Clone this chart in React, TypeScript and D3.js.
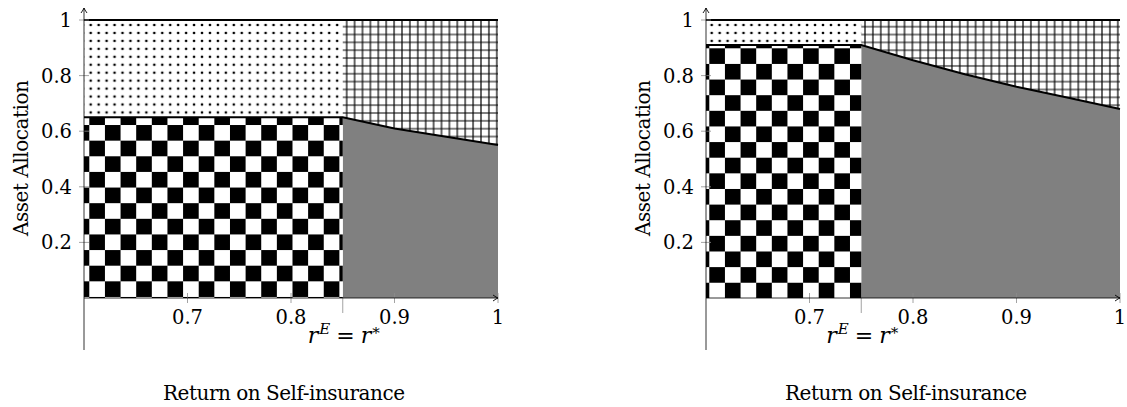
import React, { useEffect, useRef } from 'react';
import * as d3 from 'd3';

const xTicks = [0.7, 0.8, 0.9, 1];
const xTickLabels = ['0.7', '0.8', '0.9', '1'];
const yTicks = [0.2, 0.4, 0.6, 0.8, 1];
const yTickLabels = ['0.2', '0.4', '0.6', '0.8', '1'];

// left panel: threshold return and asset share boundary
const leftRStar = 0.85;
const leftReturns = [0.6, 0.85, 0.9, 0.95, 1];
const leftShares = [0.65, 0.65, 0.61, 0.58, 0.55];

// right panel
const rightRStar = 0.75;
const rightReturns = [0.6, 0.75, 0.8, 0.85, 0.9, 0.95, 1];
const rightShares = [0.91, 0.91, 0.855, 0.805, 0.76, 0.72, 0.68];

const xLabel = 'Return on Self-insurance';
const yLabel = 'Asset Allocation';

const FONT = "DejaVu Serif, Liberation Serif, serif";

const panels = [
    { id: 'l', left: 84, rStar: leftRStar, returns: leftReturns, shares: leftShares, checker: [89.3, 109.4], dots: [90.7, 25], grid: [346.7, 97.3] },
    { id: 'r', left: 706, rStar: rightRStar, returns: rightReturns, shares: rightShares, checker: [709.3, 48.3], dots: [711.7, 25], grid: [865, 26.7] },
];

const App = () => {
    const ref = useRef<SVGSVGElement>(null);

    useEffect(() => {
        const svg = d3.select(ref.current);
        svg.selectAll('*').remove();
        const defs = svg.append('defs');

        const cell = 15.63;
        const dotStep = 7.95;
        const gridW = 7.9, gridH = 7.85;

        panels.forEach(p => {
            const x = d3.scaleLinear().domain([0.6, 1]).range([p.left, p.left + 414]);
            const y = d3.scaleLinear().domain([0, 1]).range([298, 20]);
            const level = p.shares[0];
            const pts: [number, number][] = p.returns.map((r, i) => [r, p.shares[i]]);
            const tail = pts.filter(d => d[0] >= p.rStar);

            // patterns
            const chk = defs.append('pattern').attr('id', 'chk-' + p.id)
                .attr('patternUnits', 'userSpaceOnUse')
                .attr('x', p.checker[0]).attr('y', p.checker[1])
                .attr('width', cell * 2).attr('height', cell * 2);
            chk.append('rect').attr('width', cell * 2).attr('height', cell * 2).attr('fill', '#fff');
            chk.append('rect').attr('width', cell).attr('height', cell).attr('fill', '#000');
            chk.append('rect').attr('x', cell).attr('y', cell).attr('width', cell).attr('height', cell).attr('fill', '#000');

            const dots = defs.append('pattern').attr('id', 'dots-' + p.id)
                .attr('patternUnits', 'userSpaceOnUse')
                .attr('x', p.dots[0] - dotStep / 2).attr('y', p.dots[1] - dotStep / 2)
                .attr('width', dotStep).attr('height', dotStep);
            dots.append('circle').attr('cx', dotStep / 2).attr('cy', dotStep / 2).attr('r', 1.35).attr('fill', '#000');

            const grid = defs.append('pattern').attr('id', 'grid-' + p.id)
                .attr('patternUnits', 'userSpaceOnUse')
                .attr('x', p.grid[0] - gridW / 2).attr('y', p.grid[1] - gridH / 2)
                .attr('width', gridW).attr('height', gridH);
            grid.append('path').attr('d', `M${gridW / 2},0V${gridH}M0,${gridH / 2}H${gridW}`)
                .attr('stroke', '#000').attr('stroke-width', 1.2).attr('fill', 'none');

            const g = svg.append('g');

            // regions
            g.append('path')
                .attr('d', d3.area<[number, number]>().x(d => x(d[0])).y0(y(0)).y1(d => y(d[1]))(tail))
                .attr('fill', '#808080');
            g.append('path')
                .attr('d', d3.area<[number, number]>().x(d => x(d[0])).y0(y(1)).y1(d => y(d[1]))(tail))
                .attr('fill', `url(#grid-${p.id})`);
            g.append('rect')
                .attr('x', x(0.6)).attr('y', y(1))
                .attr('width', x(p.rStar) - x(0.6)).attr('height', y(level) - y(1))
                .attr('fill', `url(#dots-${p.id})`);
            g.append('rect')
                .attr('x', x(0.6)).attr('y', y(level))
                .attr('width', x(p.rStar) - x(0.6)).attr('height', y(0) - y(level))
                .attr('fill', `url(#chk-${p.id})`);

            // boundary lines
            g.append('path')
                .attr('d', d3.line<[number, number]>().x(d => x(d[0])).y(d => y(d[1]))(pts))
                .attr('fill', 'none').attr('stroke', '#000').attr('stroke-width', 2);
            g.append('path')
                .attr('d', `M${x(0.6)},${y(1)}H${x(1)}`)
                .attr('stroke', '#000').attr('stroke-width', 2);

            // ticks
            const tickColor = '#8c8c8c';
            xTicks.forEach(t => {
                g.append('path').attr('d', `M${x(t)},${y(0) - 5}V${y(0) + 5}`)
                    .attr('stroke', tickColor).attr('stroke-width', 0.8);
            });
            yTicks.forEach(t => {
                g.append('path').attr('d', `M${x(0.6) - 5},${y(t)}H${x(0.6) + 5}`)
                    .attr('stroke', tickColor).attr('stroke-width', 0.8);
            });
            g.append('path').attr('d', `M${x(p.rStar)},${y(0)}V${y(0) + 15}`)
                .attr('stroke', tickColor).attr('stroke-width', 0.8);

            // axes
            const x0 = x(0.6);
            g.append('path').attr('d', `M${x0},${y(0)}H${x(1)}`).attr('stroke', '#000').attr('stroke-width', 0.8);
            g.append('path').attr('d', `M${x0},350V8`).attr('stroke', '#000').attr('stroke-width', 0.8);
            const ax = x(1), ay = y(0);
            g.append('path')
                .attr('d', `M${ax - 5},${ay - 3}Q${ax - 1.5},${ay - 0.5} ${ax},${ay}Q${ax - 1.5},${ay + 0.5} ${ax - 5},${ay + 3}`)
                .attr('fill', 'none').attr('stroke', '#000').attr('stroke-width', 0.9);
            g.append('path')
                .attr('d', `M${x0 - 3},13Q${x0 - 0.5},9.5 ${x0},8Q${x0 + 0.5},9.5 ${x0 + 3},13`)
                .attr('fill', 'none').attr('stroke', '#000').attr('stroke-width', 0.9);

            // tick labels
            xTicks.forEach((t, i) => {
                g.append('text').attr('x', x(t)).attr('y', 324)
                    .attr('text-anchor', 'middle').attr('font-family', FONT).attr('font-size', 19.5)
                    .text(xTickLabels[i]);
            });
            yTicks.forEach((t, i) => {
                g.append('text').attr('x', x0 - 12).attr('y', y(t) + 7)
                    .attr('text-anchor', 'end').attr('font-family', FONT).attr('font-size', 19.5)
                    .text(yTickLabels[i]);
            });

            // r^E = r^* label
            const m = g.append('text').attr('x', x(p.rStar) + 1).attr('y', 343)
                .attr('text-anchor', 'middle').attr('font-family', FONT).attr('font-size', 22);
            m.append('tspan').attr('font-style', 'italic').text('r');
            m.append('tspan').attr('font-style', 'italic').attr('font-size', 15).attr('dy', -9).attr('dx', 1).text('E');
            m.append('tspan').attr('dy', 9).attr('dx', 6).text('=');
            m.append('tspan').attr('font-style', 'italic').attr('dx', 6).text('r');
            m.append('tspan').attr('font-size', 15).attr('dy', -5).attr('dx', 1).text('*');

            // axis titles
            g.append('text').attr('x', x0 + 207 - 7).attr('y', 400)
                .attr('text-anchor', 'middle').attr('font-family', FONT).attr('font-size', 20)
                .attr('textLength', 242).attr('lengthAdjust', 'spacing')
                .text(xLabel);
            g.append('text').attr('transform', `translate(${x0 - 56},158) rotate(-90)`)
                .attr('text-anchor', 'middle').attr('font-family', FONT).attr('font-size', 20)
                .attr('textLength', 156).attr('lengthAdjust', 'spacing')
                .text(yLabel);
        });
    }, []);

    return (
        <svg ref={ref} width={1127} height={407}
            style={{ position: 'absolute', left: 0, top: 0, background: '#fff' }} />
    );
};

export default App;
